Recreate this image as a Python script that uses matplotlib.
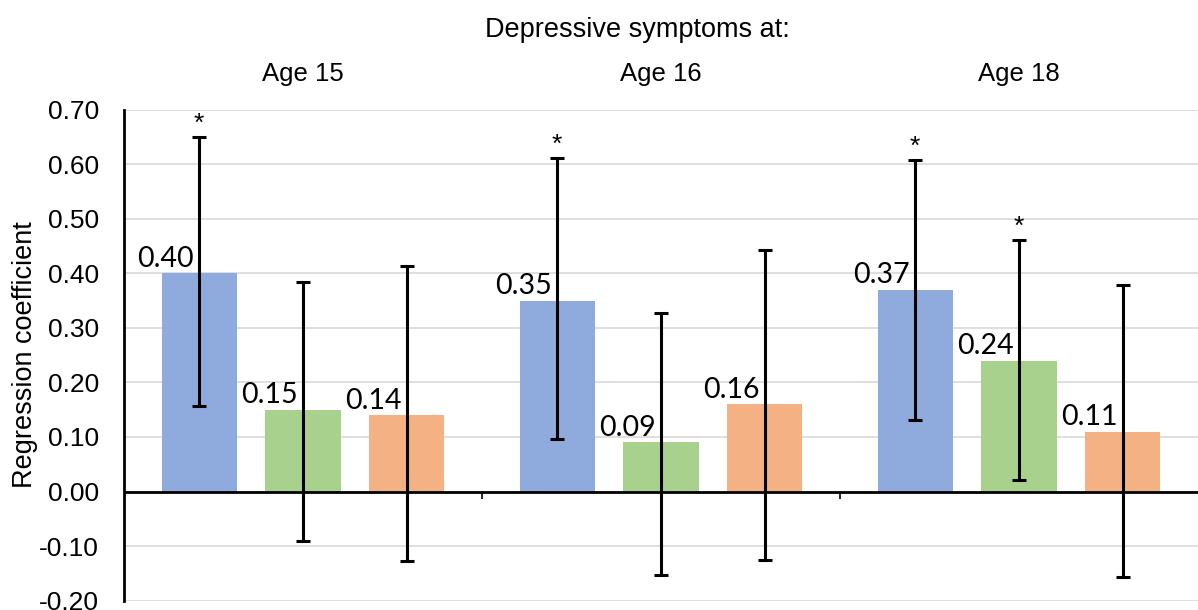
import matplotlib
matplotlib.use('Agg')
import matplotlib.pyplot as plt
import numpy as np

groups = ['Age 15', 'Age 16', 'Age 18']
coef = [[0.40, 0.35, 0.37],
        [0.15, 0.09, 0.24],
        [0.14, 0.16, 0.11]]
ci_low = [[0.157, 0.097, 0.132],
          [-0.091, -0.152, 0.021],
          [-0.128, -0.126, -0.157]]
ci_high = [[0.649, 0.611, 0.607],
           [0.384, 0.327, 0.460],
           [0.413, 0.442, 0.378]]
signif = [[True, True, True],
          [False, False, True],
          [False, False, False]]
colors = ['#8faadc', '#a9d18e', '#f4b183']
yticks = [-0.20, -0.10, 0.00, 0.10, 0.20, 0.30, 0.40, 0.50, 0.60, 0.70]

narrow = ['Liberation Sans Narrow', 'Liberation Sans', 'DejaVu Sans']
label_font = ['Lato', 'DejaVu Sans']

fig = plt.figure(figsize=(11.98, 6.10), dpi=100)
ax = fig.add_axes([124 / 1198, 1 - 600.7 / 610, 1 - 124 / 1198, (600.7 - 109.5) / 610])

x = np.arange(len(groups))
width = 0.21
offsets = [-0.29, 0.0, 0.29]

for k in range(3):
    xs = x + offsets[k]
    vals = np.array(coef[k])
    lo = vals - np.array(ci_low[k])
    hi = np.array(ci_high[k]) - vals
    ax.bar(xs, vals, width, color=colors[k], zorder=2)
    ax.errorbar(xs, vals, yerr=[lo, hi], fmt='none', ecolor='black',
                elinewidth=2.2, capsize=5, capthick=2.2, zorder=4)
    for i in range(len(groups)):
        ax.annotate(f'{vals[i]:.2f}', (xs[i], vals[i]), xytext=(-4, 1),
                    textcoords='offset points', ha='right', va='bottom',
                    fontsize=20.5, family=label_font, zorder=5)
        if signif[k][i]:
            ax.annotate('*', (xs[i], ci_high[k][i]), xytext=(0, 1),
                        textcoords='offset points', ha='center', va='bottom',
                        fontsize=19, family=narrow)

ax.set_xlim(-0.5, len(groups) - 0.5)
ax.set_ylim(-0.20, 0.70)
ax.set_yticks(yticks)
ax.set_yticklabels([f'{v:.2f}' for v in yticks], family=narrow, fontsize=19)
ax.tick_params(axis='y', length=0, pad=18)
ax.set_xticks([])
ax.grid(axis='y', color='#d9d9d9', linewidth=1.2, zorder=0)
ax.set_axisbelow(True)
for s in ['top', 'right', 'bottom']:
    ax.spines[s].set_visible(False)
ax.spines['left'].set_linewidth(2)
ax.spines['left'].set_zorder(3)
ax.axhline(0, color='black', linewidth=2, zorder=3)
ax.vlines(x[1:] - 0.5, -0.013, 0, color='black', linewidth=1.2, zorder=3)

ax.set_ylabel('Regression coefficient', family=narrow, fontsize=19.5, labelpad=1)

for i, g in enumerate(groups):
    ax.text(x[i], 0.765, g, ha='center', va='center', family=narrow,
            fontsize=18.5, clip_on=False)
fig.text(637 / 1198, 1 - 30 / 610, 'Depressive symptoms at:', ha='center',
         va='center', family=narrow, fontsize=19.5)

fig.savefig('out.png', dpi=100)
